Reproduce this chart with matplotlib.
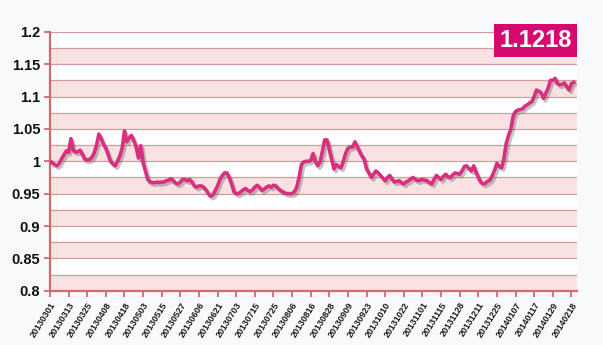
import matplotlib
matplotlib.use("Agg")
import matplotlib.pyplot as plt
import matplotlib.patheffects as pe
from matplotlib.patches import Rectangle
import numpy as np

plt.rcParams['font.family'] = ['Liberation Sans', 'DejaVu Sans']

# Unit net value series (one point per trading day)
values = [
    1.000, 0.998, 0.995, 0.993, 0.997, 1.004, 1.010, 1.016, 1.014, 1.035,
    1.017, 1.014, 1.015, 1.017, 1.010, 1.003, 1.002, 1.003, 1.006, 1.013,
    1.025, 1.042, 1.035, 1.026, 1.020, 1.010, 1.000, 0.996, 0.993, 1.000,
    1.008, 1.020, 1.047, 1.030, 1.036, 1.040, 1.032, 1.022, 1.005, 1.024,
    0.998, 0.985, 0.972, 0.968, 0.967, 0.967, 0.968, 0.967, 0.968, 0.968,
    0.970, 0.971, 0.973, 0.970, 0.966, 0.965, 0.968, 0.972, 0.972, 0.970,
    0.972, 0.968, 0.962, 0.960, 0.962, 0.962, 0.960, 0.956, 0.950, 0.946,
    0.948, 0.955, 0.962, 0.972, 0.978, 0.982, 0.982, 0.975, 0.965, 0.953,
    0.950, 0.950, 0.953, 0.956, 0.958, 0.955, 0.953, 0.956, 0.960, 0.963,
    0.960, 0.955, 0.957, 0.960, 0.962, 0.960, 0.963, 0.962, 0.958, 0.955,
    0.953, 0.951, 0.950, 0.950, 0.950, 0.953, 0.960, 0.975, 0.995, 0.999,
    1.000, 1.000, 1.001, 1.012, 1.000, 0.993, 0.998, 1.015, 1.033, 1.033,
    1.018, 1.003, 0.988, 0.995, 0.992, 0.990, 1.000, 1.012, 1.020, 1.022,
    1.022, 1.030, 1.022, 1.015, 1.008, 1.003, 0.988, 0.982, 0.975, 0.980,
    0.985, 0.982, 0.978, 0.974, 0.970, 0.975, 0.978, 0.972, 0.968, 0.969,
    0.970, 0.967, 0.965, 0.968, 0.970, 0.973, 0.975, 0.972, 0.970, 0.971,
    0.972, 0.971, 0.970, 0.967, 0.965, 0.972, 0.978, 0.975, 0.972, 0.977,
    0.980, 0.976, 0.975, 0.979, 0.982, 0.981, 0.980, 0.985, 0.992, 0.993,
    0.989, 0.985, 0.993, 0.983, 0.975, 0.968, 0.965, 0.966, 0.969, 0.971,
    0.978, 0.986, 0.997, 0.992, 0.990, 1.004, 1.028, 1.040, 1.050, 1.070,
    1.077, 1.079, 1.080, 1.081, 1.085, 1.087, 1.090, 1.092, 1.100, 1.110,
    1.108, 1.106, 1.097, 1.105, 1.113, 1.125, 1.125, 1.128, 1.120, 1.118,
    1.119, 1.121, 1.115, 1.110, 1.120, 1.1218,
]

tick_labels = [
    "20130301", "20130313", "20130325", "20130408", "20130418", "20130503",
    "20130515", "20130527", "20130606", "20130621", "20130703", "20130715",
    "20130725", "20130806", "20130816", "20130828", "20130909", "20130923",
    "20131010", "20131022", "20131101", "20131115", "20131128", "20131211",
    "20131225", "20140107", "20140117", "20140129", "20140218",
]
tick_step = 8

y_ticks = [0.8, 0.85, 0.9, 0.95, 1.0, 1.05, 1.1, 1.15, 1.2]
latest_value = "1.1218"

fig = plt.figure(figsize=(6.03, 3.45), dpi=100)
fig.patch.set_facecolor("#f8f9fb")
ax = fig.add_axes([0.0829, 0.157, 0.874, 0.751])
ax.set_facecolor("white")

ymin, ymax = 0.8, 1.2
# alternating horizontal bands
band = 0.025
edges = np.arange(ymin, ymax + 1e-9, band)
for k, lo in enumerate(edges[:-1]):
    if k % 2 == 0:
        ax.axhspan(lo, lo + band, color="#fae2e3", lw=0, zorder=0)
for yv in edges:
    ax.axhline(yv, color="#d49a9c", lw=0.9, zorder=1)

x = np.arange(len(values))
ax.plot(x, values, color="#d8307f", lw=2.6, zorder=3, solid_joinstyle="round",
        path_effects=[pe.SimpleLineShadow(offset=(1.5, -1.8), shadow_color="#555555", alpha=0.35),
                      pe.Normal()])

ax.set_xlim(0, 226.4)
ax.set_ylim(ymin, ymax)

ax.set_yticks(y_ticks)
ax.set_yticklabels([f"{v:g}" for v in y_ticks], fontsize=10.5, fontweight="bold", color="#111111")
tick_pos = np.arange(len(tick_labels)) * tick_step
ax.set_xticks(tick_pos)
ax.set_xticklabels(tick_labels, rotation=58, ha="right", va="top", fontsize=6.4,
                   fontweight="bold", color="#1a1a1a", rotation_mode="anchor")

for side in ("top", "right"):
    ax.spines[side].set_visible(False)
for side in ("left", "bottom"):
    ax.spines[side].set_color("#d06a6c")
    ax.spines[side].set_linewidth(1.6)
ax.tick_params(axis="both", direction="out", length=4, width=1.3, color="#d06a6c")
ax.tick_params(axis="y", pad=3)
ax.tick_params(axis="x", pad=3)

# latest value badge
fig.patches.append(Rectangle((0.819, 0.835), 0.138, 0.095, transform=fig.transFigure,
                             facecolor="#d6096e", edgecolor="none", zorder=5))
fig.text(0.888, 0.882, latest_value, fontsize=17, fontweight="bold", color="white",
         ha="center", va="center", zorder=6)

fig.savefig("out.png", dpi=100, facecolor=fig.get_facecolor())
